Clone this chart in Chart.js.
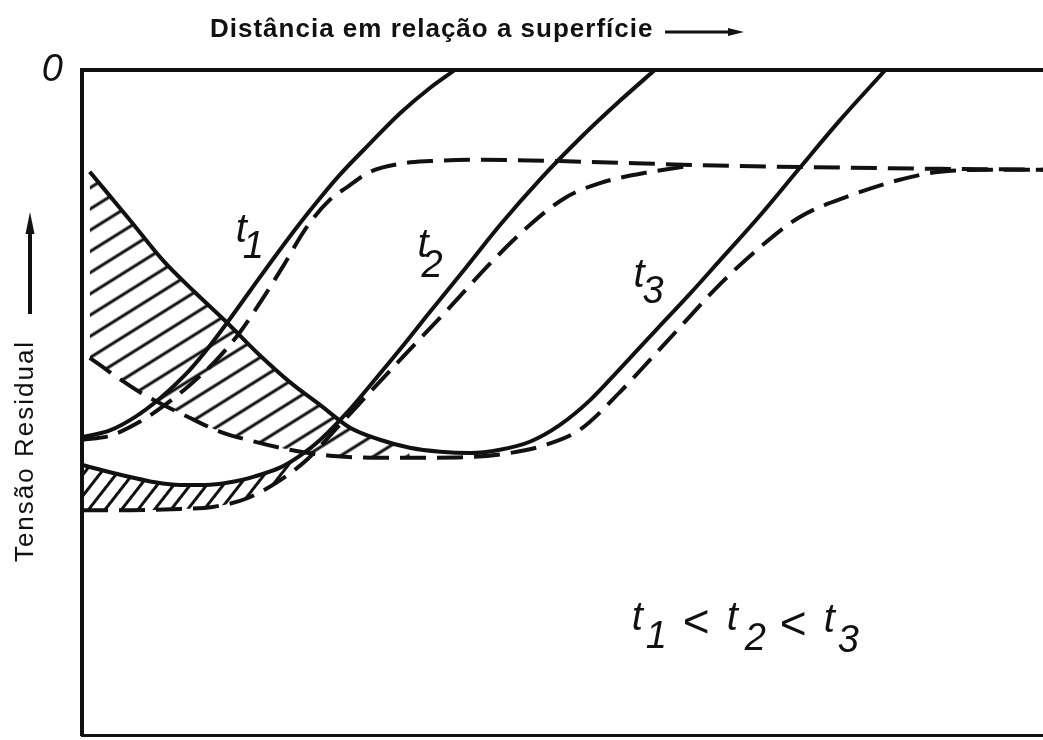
<!DOCTYPE html>
<html>
<head>
<meta charset="utf-8">
<script src="https://cdn.jsdelivr.net/npm/chart.js@4"></script>
<style>
  html, body { margin: 0; padding: 0; background: #fff; }
  canvas { display: block; }
</style>
</head>
<body>
<canvas id="chart" width="1043" height="740"></canvas>
<script>
// Residual stress profiles vs. depth below the surface (schematic units).
// x: distance from the surface (0..100), y: residual stress (0 at top, compressive downward).

const yTicks = [0];
const yTickLabels = ['0'];

// t1: stress profile (solid) and its counterpart (dashed)
const t1SolidX = [0, 2.9, 5.5, 8.1, 10.7, 12.8, 15.1, 17.5, 20.1, 22.7, 24.8, 26.8, 30.0, 33.1, 36.2, 38.8];
const t1SolidY = [-55.2, -54.2, -52.2, -49.4, -45.9, -42.4, -38.0, -33.2, -28.0, -23.0, -19.2, -15.8, -11.0, -6.5, -2.7, 0];
const t1DashX = [0, 2.9, 6.0, 8.6, 11.2, 13.8, 16.4, 18.7, 20.8, 23.4, 25.8, 27.6, 30.0, 33.1, 36.2, 41.4, 49.7, 64.3, 79.9, 100];
const t1DashY = [-55.6, -55.0, -52.9, -50.4, -47.4, -43.9, -39.5, -34.6, -29.8, -23.6, -19.5, -17.6, -15.3, -14.1, -13.7, -13.5, -13.7, -14.3, -14.7, -15.0];

// t2
const t2SolidX = [0, 2.4, 5.0, 7.6, 10.2, 12.8, 15.4, 18.0, 20.6, 22.7, 24.8, 27.4, 30.0, 33.1, 36.2, 39.9, 43.5, 47.7, 51.8, 56.0, 59.6];
const t2SolidY = [-59.4, -60.3, -61.2, -62.0, -62.4, -62.4, -62.0, -61.1, -59.8, -58.0, -55.6, -51.8, -47.4, -42.0, -36.4, -29.8, -23.3, -16.4, -10.3, -4.6, 0];
const t2DashX = [0, 5.0, 10.2, 13.6, 17.2, 20.6, 23.4, 26.8, 30.0, 33.1, 38.0, 42.8, 46.6, 50.3, 53.9, 58.1, 63.3];
const t2DashY = [-66.2, -66.2, -66.0, -65.7, -64.4, -61.7, -58.6, -53.4, -48.4, -43.6, -36.1, -28.6, -23.3, -19.2, -17.0, -15.6, -14.4];

// t3
const t3SolidX = [0.8, 5.0, 8.4, 11.8, 15.1, 18.5, 21.6, 24.8, 27.9, 31.0, 34.1, 37.3, 40.4, 43.5, 46.6, 49.7, 52.9, 56.0, 59.8, 63.3, 66.4, 70.6, 74.7, 78.9, 83.6];
const t3SolidY = [-15.3, -22.6, -28.6, -33.5, -38.0, -42.9, -46.9, -50.4, -53.8, -55.6, -56.8, -57.4, -57.6, -57.1, -55.9, -53.4, -49.6, -44.9, -39.0, -33.6, -28.6, -21.8, -14.7, -7.5, 0];
const t3DashX = [0.8, 6.2, 11.2, 14.4, 17.2, 21.6, 25.8, 31.0, 36.2, 40.4, 44.5, 48.2, 51.8, 56.0, 59.1, 61.9, 66.4, 70.6, 74.7, 79.9, 85.1, 89.3, 95.5, 100];
const t3DashY = [-43.3, -48.6, -52.3, -54.4, -55.6, -57.1, -58.0, -58.3, -58.3, -58.2, -57.6, -56.4, -54.1, -48.4, -43.6, -39.2, -32.2, -26.6, -22.1, -18.9, -16.5, -15.3, -15.0, -15.0];

// extent (in x) of the hatched areas between each solid/dashed pair
const HATCH_T2_END = 23.4;
const HATCH_T3_END = 36.2;

const INK = '#111';

const pts = (xs, ys) => xs.map((x, i) => ({ x, y: ys[i] }));
const upTo = (arr, lim) => arr.filter(p => p.x <= lim);

// striped canvas pattern, rotated to the given angle
function hatch(angleDeg, spacing, width) {
  const tile = document.createElement('canvas');
  tile.width = 8;
  tile.height = spacing;
  const c = tile.getContext('2d');
  c.fillStyle = INK;
  c.fillRect(0, (spacing - width) / 2, 8, width);
  const p = c.createPattern(tile, 'repeat');
  p.setTransform(new DOMMatrix().rotate(angleDeg));
  return p;
}

const t1S = pts(t1SolidX, t1SolidY), t1D = pts(t1DashX, t1DashY);
const t2S = pts(t2SolidX, t2SolidY), t2D = pts(t2DashX, t2DashY);
const t3S = pts(t3SolidX, t3SolidY), t3D = pts(t3DashX, t3DashY);

const DASH = [26, 11];
const solid = data => ({ data, borderColor: INK, borderWidth: 4, fill: false });
const dashed = data => ({ data, borderColor: INK, borderWidth: 4, borderDash: DASH, fill: false });
const edge = (data, fill, bg) => ({ data, borderColor: 'rgba(0,0,0,0)', borderWidth: 1, fill, backgroundColor: bg });

function arrow(ctx, x1, y1, x2, y2, w, headLen, headHalf) {
  const a = Math.atan2(y2 - y1, x2 - x1);
  ctx.lineWidth = w;
  ctx.beginPath();
  ctx.moveTo(x1, y1);
  ctx.lineTo(x2 - Math.cos(a) * headLen * 0.8, y2 - Math.sin(a) * headLen * 0.8);
  ctx.stroke();
  ctx.beginPath();
  ctx.moveTo(x2, y2);
  ctx.lineTo(x2 - Math.cos(a) * headLen - Math.sin(a) * headHalf, y2 - Math.sin(a) * headLen + Math.cos(a) * headHalf);
  ctx.lineTo(x2 - Math.cos(a) * headLen + Math.sin(a) * headHalf, y2 - Math.sin(a) * headLen - Math.cos(a) * headHalf);
  ctx.closePath();
  ctx.fill();
}

const curveLabels = [
  { base: 't', sub: '1', x: 16.0, y: -25.9, dx: 7, dy: 16 },
  { base: 't', sub: '2', x: 34.9, y: -28.1, dx: 4, dy: 20 },
  { base: 't', sub: '3', x: 57.4, y: -32.6, dx: 9, dy: 16 }
];

const relation = {
  x: 57.2, y: -84.2,
  parts: [
    ['t', 0, 0, 40], ['1', 14, 18, 38], ['<', 51, 7, 46],
    ['t', 95, 0, 40], ['2', 113, 20, 38], ['<', 148, 9, 46],
    ['t', 192, 2, 40], ['3', 206, 22, 38]
  ]
};

const annotations = {
  id: 'annotations',
  afterDraw(chart) {
    const { ctx } = chart;
    const xs = chart.scales.x, ys = chart.scales.y;
    ctx.save();
    ctx.fillStyle = INK;
    ctx.strokeStyle = INK;
    ctx.textBaseline = 'alphabetic';

    // header along the depth axis
    ctx.font = 'bold 26px "Liberation Sans", Arial, sans-serif';
    ctx.letterSpacing = '1px';
    ctx.textAlign = 'left';
    ctx.fillText('Distância em relação a superfície', 210, 37);
    arrow(ctx, 665, 32, 744, 32, 3, 16, 4);

    // stress axis title
    ctx.save();
    ctx.font = '26px "Liberation Sans", Arial, sans-serif';
    ctx.letterSpacing = '2px';
    ctx.textAlign = 'center';
    ctx.translate(33, 451);
    ctx.rotate(-Math.PI / 2);
    ctx.fillText('Tensão Residual', 0, 0);
    ctx.restore();
    arrow(ctx, 30, 314, 30, 212, 4, 22, 4.5);

    // curve labels
    ctx.letterSpacing = '0px';
    ctx.textAlign = 'left';
    curveLabels.forEach(l => {
      const px = xs.getPixelForValue(l.x), py = ys.getPixelForValue(l.y);
      ctx.font = 'italic 40px "Liberation Sans", Arial, sans-serif';
      ctx.fillText(l.base, px, py);
      ctx.font = 'italic 38px "Liberation Sans", Arial, sans-serif';
      ctx.fillText(l.sub, px + l.dx, py + l.dy);
    });

    // t1 < t2 < t3
    const ox = xs.getPixelForValue(relation.x), oy = ys.getPixelForValue(relation.y);
    relation.parts.forEach(([txt, dx, dy, size]) => {
      ctx.font = (txt === '<' ? '' : 'italic ') + size + 'px "Liberation Sans", Arial, sans-serif';
      ctx.fillText(txt, ox + dx, oy + dy);
    });
    ctx.restore();
  }
};

new Chart(document.getElementById('chart'), {
  type: 'line',
  data: {
    datasets: [
      solid(t1S), dashed(t1D),
      solid(t2S), dashed(t2D),
      solid(t3S), dashed(t3D),
      edge(upTo(t3S, HATCH_T3_END), '+1', hatch(-32, 18, 3)),
      edge(upTo(t3D, HATCH_T3_END), false, 'rgba(0,0,0,0)'),
      edge(upTo(t2S, HATCH_T2_END), '+1', hatch(-52, 13, 3)),
      edge(upTo(t2D, HATCH_T2_END), false, 'rgba(0,0,0,0)')
    ]
  },
  options: {
    responsive: false,
    animation: false,
    layout: { padding: 0, autoPadding: false },
    elements: {
      point: { radius: 0, hoverRadius: 0 },
      line: { cubicInterpolationMode: 'monotone', borderCapStyle: 'butt', borderJoinStyle: 'round' }
    },
    plugins: { legend: { display: false }, tooltip: { enabled: false } },
    scales: {
      x: {
        type: 'linear', position: 'bottom', min: 0, max: 100,
        grid: { display: false },
        border: { display: true, width: 3, color: INK },
        ticks: { display: false },
        afterFit: s => { s.height = 5; }
      },
      x2: {
        type: 'linear', position: 'top', min: 0, max: 100,
        grid: { display: false },
        border: { display: true, width: 4, color: INK },
        ticks: { display: false },
        afterFit: s => { s.height = 70; }
      },
      y: {
        type: 'linear', position: 'left', min: -100, max: 0,
        grid: { display: false, drawTicks: false },
        border: { display: true, width: 4, color: INK },
        afterBuildTicks: s => { s.ticks = yTicks.map(v => ({ value: v })); },
        ticks: {
          padding: 19,
          color: INK,
          font: { family: '"Liberation Sans", Arial, sans-serif', size: 38, style: 'italic' },
          callback: v => { const i = yTicks.indexOf(v); return i >= 0 ? yTickLabels[i] : ''; }
        },
        afterFit: s => { s.width = 82; s.paddingTop = 0; s.paddingBottom = 0; }
      }
    }
  },
  plugins: [annotations]
});
</script>
</body>
</html>
